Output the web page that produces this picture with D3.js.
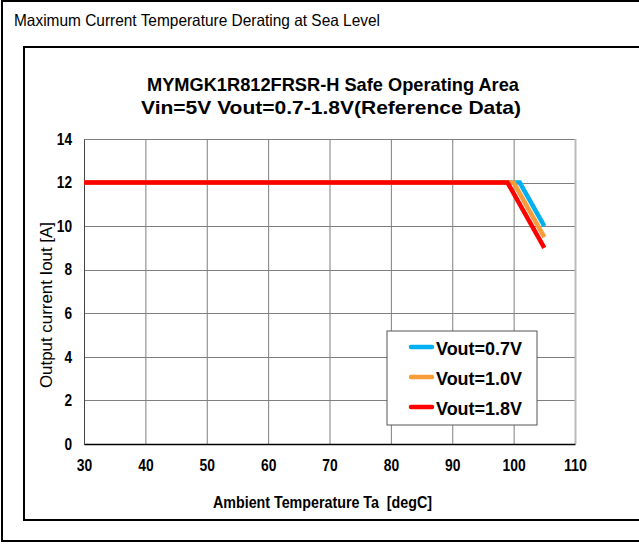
<!DOCTYPE html>
<html><head><meta charset="utf-8">
<script src="https://cdn.jsdelivr.net/npm/d3@7"></script>
<style>html,body{margin:0;padding:0;background:#fff;}svg{display:block;}</style>
</head><body>
<script>
const xTicks = [30,40,50,60,70,80,90,100,110];
const yTicks = [0,2,4,6,8,10,12,14];
const seriesNames = ["Vout=0.7V","Vout=1.0V","Vout=1.8V"];
const seriesColors = ["#00B0F0","#F99D3A","#FF0000"];
const temp07 = [30,101,105]; const iout07 = [12,12,10];
const temp10 = [30,100,105]; const iout10 = [12,12,9.5];
const temp18 = [30,99,105];  const iout18 = [12,12,9];
const series = [
  {name:seriesNames[0], color:seriesColors[0], pts:temp07.map((t,i)=>[t,iout07[i]])},
  {name:seriesNames[1], color:seriesColors[1], pts:temp10.map((t,i)=>[t,iout10[i]])},
  {name:seriesNames[2], color:seriesColors[2], pts:temp18.map((t,i)=>[t,iout18[i]])}
];
const W=639,H=544;
const svg=d3.select("body").append("svg").attr("width",W).attr("height",H);
const font="'Liberation Sans', Arial, sans-serif";
function txt(sel,len){ if(len) sel.attr("textLength",len).attr("lengthAdjust","spacingAndGlyphs"); return sel; }
// frames
svg.append("rect").attr("x",2).attr("y",1).attr("width",W+10).attr("height",540).attr("fill","none").attr("stroke","#000").attr("stroke-width",2);
svg.append("rect").attr("x",24).attr("y",47).attr("width",W+10).attr("height",473).attr("fill","none").attr("stroke","#000").attr("stroke-width",2);
txt(svg.append("text").attr("x",14).attr("y",26).attr("font-family",font).attr("font-size",16.5).attr("fill","#000").text("Maximum Current Temperature Derating at Sea Level"),366);
// titles
txt(svg.append("text").attr("x",147).attr("y",91).attr("font-family",font).attr("font-weight","bold").attr("font-size",19).text("MYMGK1R812FRSR-H Safe Operating Area"),372);
txt(svg.append("text").attr("x",141).attr("y",114).attr("font-family",font).attr("font-weight","bold").attr("font-size",19).text("Vin=5V Vout=0.7-1.8V(Reference Data)"),380);
const L=84,R=575,T=139,B=444;
const x=d3.scaleLinear().domain([30,110]).range([L,R]);
const y=d3.scaleLinear().domain([0,14]).range([B,T]);
const g=svg.append("g");
// grid
g.selectAll(".vg").data(xTicks).enter().append("line").attr("x1",d=>x(d)+0.5).attr("x2",d=>x(d)+0.5).attr("y1",T).attr("y2",B).attr("stroke","#7f7f7f").attr("stroke-width",1);
g.selectAll(".hg").data(yTicks).enter().append("line").attr("y1",d=>Math.round(y(d))+0.5).attr("y2",d=>Math.round(y(d))+0.5).attr("x1",L).attr("x2",R).attr("stroke","#7f7f7f").attr("stroke-width",1);
g.append("line").attr("x1",R+0.5).attr("x2",R+0.5).attr("y1",T).attr("y2",B).attr("stroke","#bbb").attr("stroke-width",2);
// axes
const xa=svg.append("g").attr("transform",`translate(0,${B})`).call(d3.axisBottom(x).tickValues(xTicks).tickSize(0).tickPadding(15).tickFormat(d3.format("d")));
xa.select(".domain").attr("stroke","#000").attr("stroke-width",1.5);
xa.selectAll("text").attr("font-family",font).attr("font-weight","bold").attr("font-size",16.5).attr("fill","#000")
  .each(function(d){ txt(d3.select(this), String(d).length*7.7); });
const ya=svg.append("g").attr("transform",`translate(${L},0)`).call(d3.axisLeft(y).tickValues(yTicks).tickSize(0).tickPadding(12).tickFormat(d3.format("d")));
ya.select(".domain").attr("stroke","#444").attr("stroke-width",1);
ya.selectAll("text").attr("font-family",font).attr("font-weight","bold").attr("font-size",16.5).attr("fill","#000")
  .each(function(d){ txt(d3.select(this), String(d).length*7.6); });
// axis labels
txt(svg.append("text").attr("x",213).attr("y",508).attr("font-family",font).attr("font-weight","bold").attr("font-size",16).attr("xml:space","preserve").text("Ambient Temperature Ta  [degC]"),219);
txt(svg.append("text").attr("transform","translate(52,388) rotate(-90)").attr("font-family",font).attr("font-size",16.5).text("Output current Iout [A]"),166);
// lines
const line=d3.line().x(d=>x(d[0])).y(d=>y(d[1]));
[0,1,2].forEach(i=>{
  svg.append("path").datum(series[i].pts).attr("d",line).attr("fill","none").attr("stroke",series[i].color).attr("stroke-width",4.5).attr("stroke-linejoin","miter");
});
// legend
const lg=svg.append("g");
lg.append("rect").attr("x",387).attr("y",331).attr("width",150).attr("height",94).attr("fill","#fff").attr("stroke","#555").attr("stroke-width",1);
series.forEach((s,i)=>{
  const yy=347+i*30;
  lg.append("line").attr("x1",411).attr("x2",432).attr("y1",yy).attr("y2",yy).attr("stroke",s.color).attr("stroke-width",4.5).attr("stroke-linecap","round");
  txt(lg.append("text").attr("x",436).attr("y",yy+8).attr("font-family",font).attr("font-weight","bold").attr("font-size",18).text(s.name),86);
});
</script>
</body></html>
